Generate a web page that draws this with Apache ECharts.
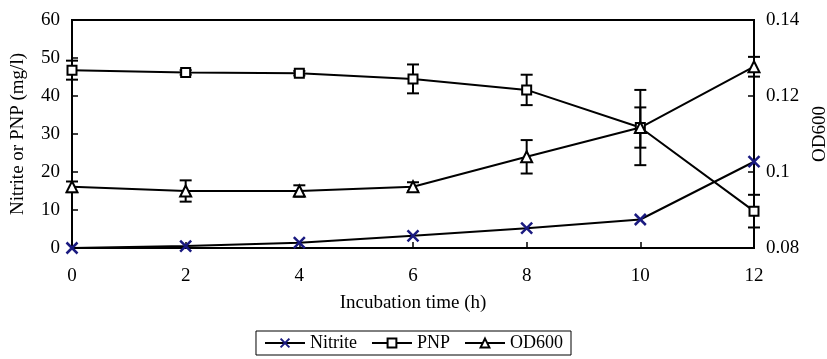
<!DOCTYPE html>
<html>
<head>
<meta charset="utf-8">
<script src="https://cdn.jsdelivr.net/npm/echarts@6/dist/echarts.min.js"></script>
<style>
  html, body { margin: 0; padding: 0; background: #fff; }
  #chart { width: 827px; height: 359px; }
</style>
</head>
<body>
<div id="chart"></div>
<script>
// incubation time (h)
const hours = [0, 2, 4, 6, 8, 10, 12];

// left axis (mg/l)
const nitrite = [0, 0.5, 1.4, 3.2, 5.2, 7.5, 22.7];
const pnp = [46.8, 46.2, 46.0, 44.5, 41.6, 31.7, 9.7];
const pnpErr = [2.5, 0.6, 0.6, 3.8, 4.0, 9.9, 4.3];

// right axis
const od600 = [0.0961, 0.0950, 0.0950, 0.0961, 0.1040, 0.1117, 0.1277];
const od600Err = [0.0014, 0.0028, 0.0015, 0.0012, 0.0044, 0.0053, 0.0026];

const FONT = '"Liberation Serif", "Times New Roman", serif';
const NAVY = '#1a1a80';
const X_SYMBOL = 'path://M0,0L10,10M10,0L0,10';

let chart = echarts.init(document.getElementById('chart'));

function pairs(ys) {
    return hours.map(function (h, i) { return [h, ys[i]]; });
}

function errorSeries(ys, errs, axisIndex) {
    return {
        type: 'custom',
        yAxisIndex: axisIndex,
        silent: true,
        z: 1,
        data: hours.map(function (h, i) { return [h, ys[i] - errs[i], ys[i] + errs[i]]; }),
        renderItem: function (params, api) {
            let lo = api.coord([api.value(0), api.value(1)]);
            let hi = api.coord([api.value(0), api.value(2)]);
            let w = 6;
            let style = { stroke: '#000', lineWidth: 2 };
            return {
                type: 'group',
                children: [
                    { type: 'line', shape: { x1: lo[0], y1: lo[1], x2: hi[0], y2: hi[1] }, style: style },
                    { type: 'line', shape: { x1: lo[0] - w, y1: lo[1], x2: lo[0] + w, y2: lo[1] }, style: style },
                    { type: 'line', shape: { x1: hi[0] - w, y1: hi[1], x2: hi[0] + w, y2: hi[1] }, style: style }
                ]
            };
        }
    };
}

let options = {
    animation: false,
    textStyle: { fontFamily: FONT },
    grid: {
        left: 72, right: 73, top: 20, bottom: 111,
        outerBoundsMode: 'none',
        containLabel: false,
        show: true, borderColor: '#000', borderWidth: 2
    },
    legend: {
        bottom: 4,
        left: 'center',
        padding: [3, 8, 3, 8],
        borderColor: '#000',
        borderWidth: 1,
        itemWidth: 40,
        itemHeight: 11,
        itemGap: 14,
        textStyle: { fontFamily: FONT, fontSize: 18, color: '#000' },
        data: ['Nitrite', 'PNP', 'OD600']
    },
    xAxis: {
        type: 'value',
        min: 0, max: 12, interval: 2,
        name: 'Incubation time (h)',
        nameLocation: 'middle',
        nameGap: 46,
        nameTextStyle: { fontFamily: FONT, fontSize: 19, color: '#000' },
        axisLine: { lineStyle: { color: '#000', width: 2 } },
        axisTick: { inside: true, length: 6, lineStyle: { color: '#000', width: 1.5 } },
        axisLabel: { margin: 19, fontFamily: FONT, fontSize: 19, color: '#000' },
        splitLine: { show: false }
    },
    yAxis: [
        {
            type: 'value',
            min: 0, max: 60, interval: 10,
            name: 'Nitrite or PNP (mg/l)',
            nameLocation: 'middle',
            nameGap: 44,
            nameTextStyle: { fontFamily: FONT, fontSize: 19, color: '#000' },
            axisLine: { show: true, lineStyle: { color: '#000', width: 2 } },
            axisTick: { show: true, inside: true, length: 6, lineStyle: { color: '#000', width: 1.5 } },
            axisLabel: { margin: 12, fontFamily: FONT, fontSize: 19, color: '#000' },
            splitLine: { show: false }
        },
        {
            type: 'value',
            min: 0.08, max: 0.14, interval: 0.02,
            name: 'OD600',
            nameLocation: 'middle',
            nameGap: 56,
            nameTextStyle: { fontFamily: FONT, fontSize: 19, color: '#000' },
            axisLine: { show: true, lineStyle: { color: '#000', width: 2 } },
            axisTick: { show: true, inside: true, length: 6, lineStyle: { color: '#000', width: 1.5 } },
            axisLabel: { margin: 12, fontFamily: FONT, fontSize: 19, color: '#000' },
            splitLine: { show: false }
        }
    ],
    series: [
        errorSeries(pnp, pnpErr, 0),
        errorSeries(od600, od600Err, 1),
        {
            name: 'Nitrite',
            type: 'line',
            yAxisIndex: 0,
            data: pairs(nitrite),
            clip: false,
            z: 3,
            symbol: X_SYMBOL,
            symbolSize: 11,
            lineStyle: { color: '#000', width: 2 },
            itemStyle: { color: NAVY, borderColor: NAVY, borderWidth: 2.5 }
        },
        {
            name: 'PNP',
            type: 'line',
            yAxisIndex: 0,
            data: pairs(pnp),
            clip: false,
            z: 3,
            symbol: 'rect',
            symbolSize: 9,
            lineStyle: { color: '#000', width: 2 },
            itemStyle: { color: '#fff', borderColor: '#000', borderWidth: 2 }
        },
        {
            name: 'OD600',
            type: 'line',
            yAxisIndex: 1,
            data: pairs(od600),
            clip: false,
            z: 3,
            symbol: 'triangle',
            symbolSize: 11,
            lineStyle: { color: '#000', width: 2 },
            itemStyle: { color: '#fff', borderColor: '#000', borderWidth: 2 }
        }
    ]
};

chart.setOption(options);

window.addEventListener('resize', function () {
    chart?.resize();
});
</script>
</body>
</html>
